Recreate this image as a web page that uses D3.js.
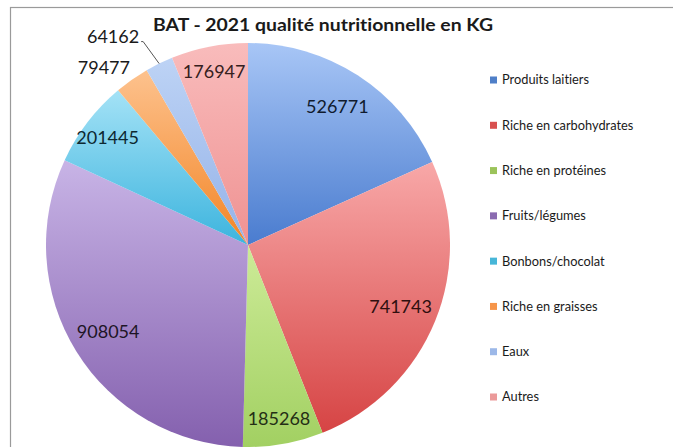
<!DOCTYPE html>
<html>
<head>
<meta charset="utf-8">
<script src="https://cdn.jsdelivr.net/npm/d3@7"></script>
<style>
  body { margin: 0; background: #fff; }
  svg { display: block; }
  text { font-variant-ligatures: none; }
</style>
</head>
<body>
<div id="chart"></div>
<script>
// data
var categories = ["Produits laitiers", "Riche en carbohydrates", "Riche en protéines", "Fruits/légumes",
                  "Bonbons/chocolat", "Riche en graisses", "Eaux", "Autres"];
var values = [526771, 741743, 185268, 908054, 201445, 79477, 64162, 176947];
var title = "BAT - 2021 qualité nutritionnelle en KG";

// colours: legend swatch, light top and dark bottom of the slice gradient
var swatch = ["#4f7fc8", "#d8504f", "#9bc35a", "#8a6bb0", "#47b6d8", "#f6954a", "#9cb8e8", "#eb9a9a"];
var topCol = ["#a8c6f6", "#f8a8a8", "#cdeb98", "#c8b4e6", "#a4e2f6", "#fdc28e", "#bdd3f5", "#f9bcbc"];
var botCol = ["#4a7ccf", "#d64444", "#a2d062", "#8460ae", "#3cb4de", "#f28526", "#94b2e8", "#ef9292"];

var W = 673, H = 447;
var cx = 248, cy = 245, R = 202;

var svg = d3.select("#chart").append("svg")
  .attr("width", W)
  .attr("height", H);

// chart frame
svg.append("rect")
  .attr("x", 10.5).attr("y", 7.5)
  .attr("width", 700).attr("height", 500)
  .attr("fill", "none")
  .attr("stroke", "#9a9a9a")
  .attr("stroke-width", 1.2);

var defs = svg.append("defs");
categories.forEach(function(c, i) {
  var g = defs.append("linearGradient")
    .attr("id", "grad" + i)
    .attr("x1", 0).attr("y1", 0).attr("x2", 0).attr("y2", 1);
  g.append("stop").attr("offset", "0%").attr("stop-color", topCol[i]);
  g.append("stop").attr("offset", "100%").attr("stop-color", botCol[i]);
});

svg.append("text")
  .attr("x", 323).attr("y", 31)
  .attr("text-anchor", "middle")
  .attr("textLength", 340)
  .attr("lengthAdjust", "spacingAndGlyphs")
  .style("font-family", "Lato, 'Open Sans', sans-serif")
  .style("font-weight", "bold")
  .style("font-size", "16.5px")
  .attr("fill", "#1a1a1a")
  .text(title);

var total = d3.sum(values);
var pie = d3.pie().sort(null).value(function(d) { return d; });
var arcs = pie(values);
var arc = d3.arc().innerRadius(0).outerRadius(R);

var pieG = svg.append("g").attr("transform", "translate(" + cx + "," + cy + ")");

pieG.selectAll("path.slice")
  .data(arcs)
  .enter().append("path")
  .attr("class", "slice")
  .attr("d", arc)
  .attr("fill", function(d, i) { return "url(#grad" + i + ")"; });

function polar(a, r) {
  return [r * Math.sin(a), -r * Math.cos(a)];
}

// data labels: inside for the bigger slices, outside for the two thin ones
var outsideCount = 0;
arcs.forEach(function(d, i) {
  var share = d.value / total;
  var mid = (d.startAngle + d.endAngle) / 2;
  var x, y, anchor = "middle";
  if (share > 0.1) {
    var p = polar(mid, R * 0.815);
    x = p[0]; y = p[1];
  } else if (share > 0.04) {
    var p2 = polar(mid, R * 0.875);
    x = p2[0]; y = p2[1];
  } else {
    var edge = polar(mid, R);
    anchor = "end";
    if (outsideCount == 0) {
      x = edge[0] - 2; y = edge[1] - 12;
    } else {
      x = edge[0] - 20; y = edge[1] - 27;
      pieG.append("path")
        .attr("d", "M" + (x + 2) + "," + (y + 5) + "L" + (x + 4) + "," + (y + 5) + "L" + edge[0] + "," + edge[1])
        .attr("fill", "none")
        .attr("stroke", "#555")
        .attr("stroke-width", 1);
    }
    outsideCount++;
  }
  pieG.append("text")
    .attr("x", x).attr("y", y)
    .attr("dy", "0.35em")
    .attr("text-anchor", anchor)
    .style("font-family", "Lato, 'Open Sans', sans-serif")
    .style("font-size", "18px")
    .attr("fill", share > 0.04 ? d3.interpolateRgb(botCol[i], "#000")(0.78) : "#1a1a1a")
    .text(d.value);
});

// legend
var legend = svg.append("g");
var ly = d3.scalePoint().domain(categories).range([80, 397]);
categories.forEach(function(c, i) {
  legend.append("rect")
    .attr("x", 490).attr("y", ly(c) - 3.5)
    .attr("width", 7).attr("height", 7)
    .attr("fill", swatch[i]);
  legend.append("text")
    .attr("x", 502).attr("y", ly(c))
    .attr("dy", "0.35em")
    .style("font-family", "Lato, 'Open Sans', sans-serif")
    .style("font-size", "12.8px")
    .attr("fill", "#1a1a1a")
    .text(c);
});
</script>
</body>
</html>
